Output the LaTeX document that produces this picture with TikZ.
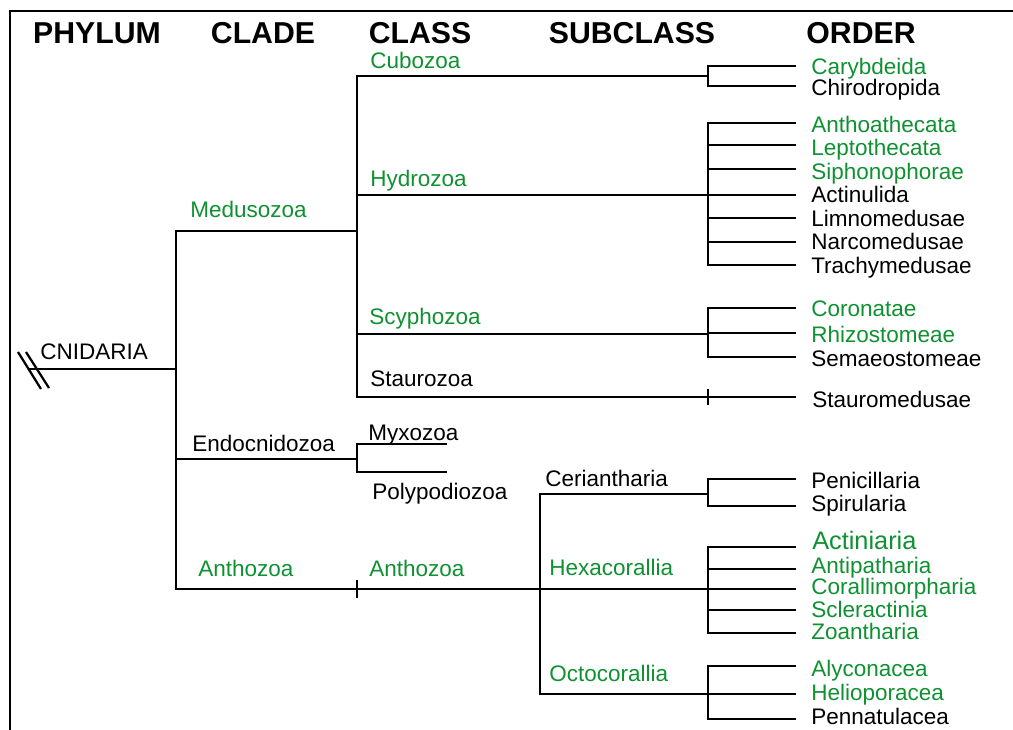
\documentclass[tikz,border=0pt]{standalone}
\usepackage{fontspec}
\setmainfont{Liberation Sans}
\definecolor{taxonGreen}{RGB}{15,145,50}

\begin{document}
\begin{tikzpicture}
[x=0.025cm,y=-0.025cm,
  lineDecorate/.style={-,line width=1.9pt,line cap=rect},%
  headDecorate/.style={anchor=base,inner sep=0pt,font=\fontsize{21.5}{24}\selectfont\bfseries},%
  nameDecorate/.style={anchor=base west,inner sep=0pt,yshift=-5.7pt,font=\fontsize{16}{18}\selectfont}]
\useasboundingbox (0,0) rectangle (1013,730);
%% frame
\draw[line width=1.8pt] (10,730) -- (10,11) -- (1013,11);
%% column heads
\foreach \nodename/\x in {PHYLUM/97, CLADE/263, CLASS/420, SUBCLASS/632, ORDER/861}
{
  \node (\nodename) at (\x,43) [headDecorate] {\nodename};
}
%% branch points
\foreach \nodename/\x/\y in {
  root/30/369, cnid/176/369, medu/176/231, meduE/357/231, endo/176/459,
  endoE/357/459, anth/176/589, anthT/357/589, anthE/540/589, cubo/357/76,
  cuboE/708/76, hydr/357/195, hydrE/708/195, scyp/357/334, scypE/708/334,
  stau/357/397, stauT/708/397, stauE/795/397, myxo/357/444, myxoE/446/444,
  poly/357/472, polyE/446/472, ceri/540/494, ceriE/708/494, hexaE/708/589,
  octo/540/694, octoE/708/694}
{
  \coordinate (\nodename) at (\x,\y);
}
%% phylum, clades, classes, subclasses
\foreach \nodename/\x/\y/\col in {
  CNIDARIA/40/351/black, Medusozoa/190/209/taxonGreen,
  Endocnidozoa/192/443/black, Cubozoa/370/60/taxonGreen,
  Hydrozoa/370/178/taxonGreen, Scyphozoa/369/316/taxonGreen,
  Staurozoa/370/378/black, Myxozoa/368/432/black, Polypodiozoa/372/491/black,
  Ceriantharia/545/478/black, Hexacorallia/549/567/taxonGreen,
  Octocorallia/549/673/taxonGreen}
{
  \node (\nodename) at (\x,\y) [nameDecorate,text=\col] {\nodename};
}
\node (anthozoaClade) at (198,568) [nameDecorate,text=taxonGreen] {Anthozoa};
\node (anthozoaClass) at (369,568) [nameDecorate,text=taxonGreen] {Anthozoa};
%% orders
\foreach \nodename/\ly/\ty/\col in {
  Carybdeida/66/66/taxonGreen, Chirodropida/86/87/black,
  Anthoathecata/123/124/taxonGreen, Leptothecata/145/147/taxonGreen,
  Siphonophorae/169/171/taxonGreen, Actinulida/195/194/black,
  Limnomedusae/218/218/black, Narcomedusae/242/241/black,
  Trachymedusae/265/265/black, Coronatae/308/308/taxonGreen,
  Rhizostomeae/333/334/taxonGreen, Semaeostomeae/357/358/black,
  Penicillaria/479/480/black, Spirularia/506/503/black,
  Antipatharia/569/565/taxonGreen, Corallimorpharia/589/586/taxonGreen,
  Scleractinia/610/609/taxonGreen, Zoantharia/633/631/taxonGreen,
  Alyconacea/666/668/taxonGreen, Helioporacea/694/692/taxonGreen,
  Pennatulacea/719/716/black}
{
  \coordinate (\nodename-in) at (708,\ly);
  \coordinate (\nodename-out) at (795,\ly);
  \node (\nodename) at (811,\ty) [nameDecorate,text=\col] {\nodename};
  \draw[lineDecorate] (\nodename-in) -- (\nodename-out);
}
\coordinate (Actiniaria-in) at (708,547);
\coordinate (Actiniaria-out) at (795,547);
\node (Actiniaria) at (812,540) [nameDecorate,yshift=-0.7pt,text=taxonGreen,
  font=\fontsize{18}{20}\selectfont] {Actiniaria};
\draw[lineDecorate] (Actiniaria-in) -- (Actiniaria-out);
\node (Stauromedusae) at (812,399) [nameDecorate] {Stauromedusae};
%% edges
\path
\foreach \startnode/\endnode in {root/cnid, medu/anth, medu/meduE, endo/endoE,
  anth/anthE, anthE/hexaE, cubo/stau, cubo/cuboE, hydr/hydrE, scyp/scypE,
  stau/stauE, myxo/poly, myxo/myxoE, poly/polyE, ceri/octo, ceri/ceriE,
  octo/octoE, Carybdeida-in/Chirodropida-in, Anthoathecata-in/Trachymedusae-in,
  Coronatae-in/Semaeostomeae-in, Penicillaria-in/Spirularia-in,
  Actiniaria-in/Zoantharia-in, Alyconacea-in/Pennatulacea-in}
{
  (\startnode) edge[lineDecorate] (\endnode)
};
%% ticks and cut mark
\draw[lineDecorate] (anthT) +(0,-8) -- +(0,8);
\draw[lineDecorate] (stauT) +(0,-7) -- +(0,7);
\draw[line width=1.6pt] (root) +(-12,-17) -- +(11,20);
\draw[line width=1.6pt] (root) +(-4,-17) -- +(19,19);
\end{tikzpicture}
\end{document}
